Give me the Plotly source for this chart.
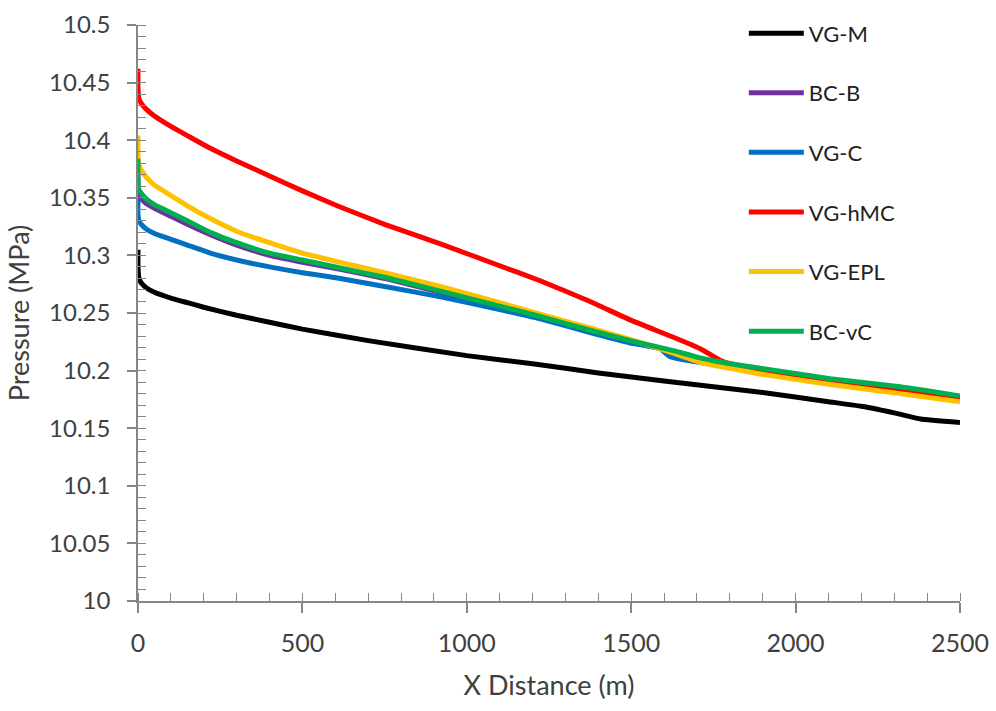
import plotly.graph_objects as go

# ---------------- data ----------------
names = ["VG-M", "BC-B", "VG-C", "VG-hMC", "VG-EPL", "BC-vC"]
colors = ["#000000", "#7030A0", "#0070C0", "#FF0000", "#FFC000", "#00B050"]

x_vgm = [0, 0, 3, 10, 25, 50, 100, 150, 200, 300, 400, 500, 700, 1000, 1200, 1400, 1600, 1900, 2100, 2200, 2320, 2380, 2500]
y_vgm = [10.305, 10.290, 10.280, 10.276, 10.272, 10.268, 10.263, 10.259, 10.255, 10.248, 10.242, 10.236, 10.226,
         10.213, 10.206, 10.198, 10.191, 10.181, 10.173, 10.169, 10.162, 10.158, 10.155]

x_bcb = [0, 0, 3, 10, 25, 50, 100, 150, 220, 300, 400, 500, 615, 750, 920, 1100, 1223, 1375, 1497, 1619, 1710, 1801, 1892, 2105, 2318, 2500]
y_bcb = [10.380, 10.358, 10.352, 10.349, 10.345, 10.341, 10.334, 10.327, 10.318, 10.309, 10.300, 10.294, 10.288,
         10.280, 10.268, 10.255, 10.246, 10.234, 10.225, 10.217, 10.210, 10.205, 10.201, 10.192, 10.185, 10.177]

x_vgc = [0, 0, 3, 10, 25, 50, 100, 150, 220, 300, 400, 500, 615, 750, 920, 1100, 1223, 1375, 1497, 1588, 1619, 1710, 1801, 1900, 2105, 2318, 2500]
y_vgc = [10.349, 10.335, 10.330, 10.327, 10.323, 10.319, 10.314, 10.309, 10.302, 10.296, 10.290, 10.285, 10.280,
         10.273, 10.264, 10.253, 10.245, 10.233, 10.224, 10.219, 10.212, 10.207, 10.204, 10.199, 10.191, 10.184, 10.176]

x_hmc = [0, 0, 3, 10, 25, 50, 100, 150, 220, 300, 400, 500, 615, 750, 920, 1100, 1223, 1375, 1497, 1619, 1710, 1770, 1801, 1900, 2000, 2200, 2500]
y_hmc = [10.462, 10.445, 10.436, 10.432, 10.427, 10.421, 10.412, 10.404, 10.393, 10.382, 10.369, 10.356, 10.342,
         10.327, 10.310, 10.291, 10.278, 10.260, 10.244, 10.230, 10.219, 10.209, 10.206, 10.200, 10.195, 10.188, 10.175]

x_epl = [0, 0, 3, 10, 25, 50, 100, 150, 220, 300, 400, 500, 615, 750, 920, 1100, 1223, 1375, 1497, 1619, 1710, 1801, 1892, 2105, 2318, 2500]
y_epl = [10.404, 10.385, 10.378, 10.374, 10.368, 10.361, 10.352, 10.343, 10.332, 10.321, 10.311, 10.302, 10.294,
         10.285, 10.273, 10.259, 10.249, 10.237, 10.227, 10.216, 10.207, 10.202, 10.197, 10.188, 10.180, 10.173]

x_bcvc = [0, 0, 3, 10, 25, 50, 100, 150, 220, 300, 400, 500, 615, 750, 920, 1100, 1223, 1375, 1497, 1619, 1710, 1801, 1892, 2105, 2318, 2500]
y_bcvc = [10.384, 10.365, 10.357, 10.354, 10.349, 10.344, 10.337, 10.330, 10.320, 10.311, 10.302, 10.296, 10.289,
          10.281, 10.269, 10.256, 10.247, 10.235, 10.226, 10.218, 10.211, 10.206, 10.202, 10.193, 10.186, 10.178]

x_tickvals = [0, 500, 1000, 1500, 2000, 2500]
x_ticktext = ["0", "500", "1000", "1500", "2000", "2500"]
y_tickvals = [10, 10.05, 10.1, 10.15, 10.2, 10.25, 10.3, 10.35, 10.4, 10.45, 10.5]
y_ticktext = ["10", "10.05", "10.1", "10.15", "10.2", "10.25", "10.3", "10.35", "10.4", "10.45", "10.5"]

series_x = [x_vgm, x_bcb, x_vgc, x_hmc, x_epl, x_bcvc]
series_y = [y_vgm, y_bcb, y_vgc, y_hmc, y_epl, y_bcvc]

# ---------------- figure ----------------
FONT = "Lato"
TXT = "#404040"
AX = "#868686"

fig = go.Figure()
for i, (n, c, xs, ys) in enumerate(zip(names, colors, series_x, series_y)):
    fig.add_trace(go.Scatter(x=xs, y=ys, mode="lines", name=n,
                             line=dict(color=c, width=5, shape="spline", smoothing=0.4),
                             legendgroup=f"g{i}"))

fig.update_layout(
    width=996, height=711,
    margin=dict(l=138, r=36, t=22, b=110),
    paper_bgcolor="white", plot_bgcolor="white",
    font=dict(family=FONT, size=24, color=TXT),
    showlegend=True,
    legend=dict(x=0.737, y=1.022, xanchor="left", yanchor="top",
                bgcolor="rgba(0,0,0,0)", font=dict(size=22, color="#222222"),
                itemwidth=55, tracegroupgap=28, traceorder="grouped"),
)
fig.update_xaxes(
    range=[0, 2500], tickvals=x_tickvals, ticktext=x_ticktext, automargin=False,
    showline=True, linecolor=AX, linewidth=1.5, showgrid=False, zeroline=False,
    ticks="outside", ticklen=10, tickcolor=AX, tickwidth=1.5,
    minor=dict(dtick=100, ticks="inside", ticklen=8, tickcolor=AX, tickwidth=1.2),
    ticklabelstandoff=9,
    title=dict(text="X Distance (m)", font=dict(size=27, color=TXT), standoff=20),
    tickfont=dict(size=25, color=TXT),
)
fig.update_yaxes(
    range=[10, 10.5], tickvals=y_tickvals, ticktext=y_ticktext, automargin=False,
    showline=True, linecolor=AX, linewidth=1.5, showgrid=False, zeroline=False,
    ticks="outside", ticklen=9, tickcolor=AX, tickwidth=1.5,
    minor=dict(dtick=0.01, tick0=10, ticks="inside", ticklen=8, tickcolor=AX, tickwidth=1.2),
    ticklabelstandoff=12,
    title=dict(text="Pressure (MPa)", font=dict(size=27, color=TXT), standoff=12),
    tickfont=dict(size=24, color=TXT),
)

fig.write_html("out.html")
